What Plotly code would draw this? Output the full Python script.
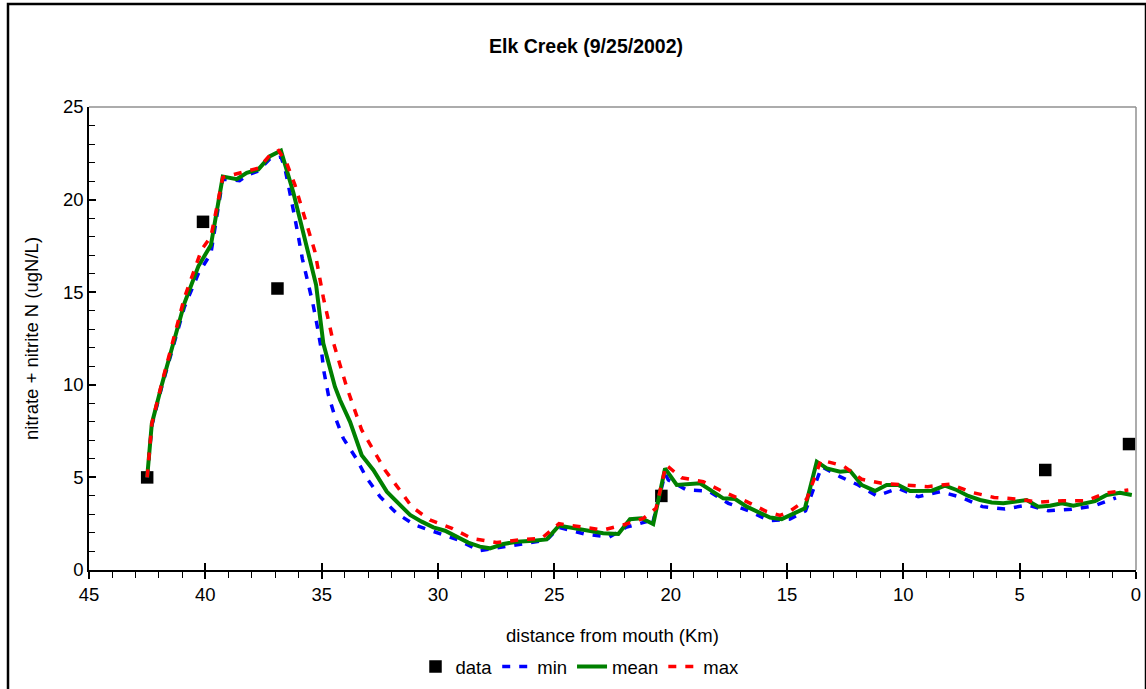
import plotly.graph_objects as go

# ---- data ----
data_x = [42.5, 40.1, 36.9, 20.4, 3.9, 0.3]
data_y = [5.0, 18.8, 15.2, 4.0, 5.4, 6.8]

mean_x = [42.5, 42.3, 41.87, 41.37, 40.9, 40.3, 39.76, 39.25, 38.65, 38.22, 37.72, 37.22, 36.75, 36.22,
          35.75, 35.24, 34.93, 34.71, 34.43, 34.21, 33.78, 33.28, 32.78, 32.2, 31.78, 31.2, 30.7, 30.2,
          29.7, 29.2, 28.7, 28.2, 27.77, 27.19, 26.62, 25.9, 25.33, 24.8, 23.75, 22.9, 22.25, 21.75,
          21.25, 20.75, 20.24, 19.74, 18.74, 17.74, 17.23, 16.73, 15.73, 15.23, 14.23, 13.72, 13.29,
          12.72, 12.29, 11.79, 11.22, 10.72, 10.22, 9.71, 8.78, 8.21, 7.71, 7.21, 6.7, 6.2, 5.7, 5.2,
          4.7, 4.2, 3.7, 3.19, 2.69, 1.76, 1.26, 0.69, 0.18]
mean_y = [5.0, 7.9, 10.0, 12.24, 14.4, 16.4, 17.55, 21.24, 21.1, 21.45, 21.63, 22.35, 22.64, 20.4,
          18.0, 15.4, 12.24, 11.16, 9.9, 9.18, 8.0, 6.2, 5.4, 4.23, 3.69, 2.97, 2.61, 2.3,
          2.12, 1.8, 1.48, 1.26, 1.17, 1.4, 1.53, 1.58, 1.65, 2.4, 2.16, 1.98, 1.94, 2.74,
          2.79, 2.48, 5.49, 4.59, 4.68, 3.87, 3.83, 3.42, 2.83, 2.75, 3.33, 5.85, 5.49,
          5.31, 5.36, 4.59, 4.27, 4.59, 4.59, 4.27, 4.28, 4.55, 4.32, 4.0, 3.78, 3.65, 3.6, 3.69,
          3.78, 3.42, 3.47, 3.6, 3.47, 3.72, 4.05, 4.17, 4.05]

max_x = [42.5, 42.3, 41.87, 41.37, 40.9, 40.16, 39.76, 39.25, 38.72, 38.22, 37.72, 37.22, 36.85, 36.5,
         36.15, 35.86, 35.57, 35.29, 34.93, 34.5, 34.21, 33.93, 33.28, 32.28, 31.7, 31.13, 30.35, 29.4,
         28.55, 27.48, 26.55, 25.55, 24.8, 23.9, 22.9, 22.04, 21.18, 20.63, 20.2, 19.53, 18.6, 17.67,
         16.73, 15.87, 15.3, 14.9, 14.15, 13.54, 12.58, 11.79, 10.93, 9.93, 8.95, 7.99, 7.06, 6.1, 5.1,
         4.16, 3.15, 2.15, 1.26, 0.33]
max_y = [5.0, 7.9, 10.1, 12.4, 14.7, 17.3, 18.0, 21.2, 21.36, 21.5, 21.7, 22.4, 22.65, 21.96,
         20.8, 19.58, 18.36, 17.19, 14.72, 12.3, 11.07, 9.9, 7.56, 5.4, 4.41, 3.42, 2.7, 2.25,
         1.71, 1.48, 1.62, 1.71, 2.5, 2.34, 2.16, 2.43, 2.79, 3.33, 5.67, 4.98, 4.77, 4.18,
         3.69, 3.15, 2.95, 3.15, 3.83, 5.94, 5.62, 4.9, 4.68, 4.59, 4.5, 4.64, 4.19, 3.92, 3.83,
         3.66, 3.74, 3.74, 4.17, 4.32]

min_x = [42.5, 42.3, 41.87, 41.37, 40.9, 40.3, 39.76, 39.25, 38.53, 38.22, 37.72, 37.22, 36.75, 36.58,
         36.39, 36.19, 36.0, 35.83, 35.6, 35.38, 35.18, 35.02, 34.9, 34.71, 34.43, 34.07, 33.52, 33.07,
         32.49, 31.78, 30.99, 30.05, 29.13, 28.22, 27.33, 26.33, 25.33, 24.8, 23.68, 22.64, 21.93,
         21.03, 20.8, 20.24, 20.1, 19.31, 18.38, 17.52, 16.66, 15.76, 14.87, 14.2, 13.51, 12.72, 11.94,
         11.14, 10.22, 9.36, 8.42, 7.49, 6.6, 5.63, 4.67, 3.77, 2.76, 1.8, 0.86]
min_y = [5.0, 7.8, 9.9, 12.1, 14.2, 16.0, 17.1, 21.1, 21.02, 21.3, 21.55, 22.2, 22.3, 21.7,
         20.4, 19.26, 18.0, 16.8, 15.57, 14.4, 13.1, 11.93, 10.7, 9.45, 8.28, 7.11, 6.03, 4.98,
         3.96, 3.06, 2.43, 2.03, 1.62, 1.04, 1.23, 1.4, 1.62, 2.3, 1.94, 1.77, 2.3,
         2.61, 2.4, 5.2, 4.86, 4.32, 4.27, 3.6, 3.2, 2.66, 2.75, 3.2, 5.58, 5.04, 4.59,
         4.0, 4.41, 3.96, 4.23, 3.92, 3.42, 3.29, 3.51, 3.2, 3.28, 3.46, 3.9]

x_ticks = [45, 40, 35, 30, 25, 20, 15, 10, 5, 0]
y_ticks = [0, 5, 10, 15, 20, 25]

title_text = "Elk Creek (9/25/2002)"
x_title = "distance from mouth (Km)"
y_title = "nitrate + nitrite N (ugN/L)"

FONT = "Arial, Liberation Sans, sans-serif"

fig = go.Figure()
fig.add_trace(go.Scatter(x=data_x, y=data_y, mode="markers", name="data",
                         marker=dict(symbol="square", size=12.5, color="black")))
fig.add_trace(go.Scatter(x=min_x, y=min_y, mode="lines", name="min",
                         line=dict(color="#0000FF", width=3.5, dash="8px,9px")))
fig.add_trace(go.Scatter(x=mean_x, y=mean_y, mode="lines", name="mean",
                         line=dict(color="#008000", width=4)))
fig.add_trace(go.Scatter(x=max_x, y=max_y, mode="lines", name="max",
                         line=dict(color="#FF0000", width=3.5, dash="8px,9px")))
# overlay axis only for inside halves of the crossing major ticks
fig.add_trace(go.Scatter(x=[None], y=[None], xaxis="x2", showlegend=False, hoverinfo="skip"))

fig.update_layout(
    width=1146, height=689,
    margin=dict(l=89, r=10, t=107, b=119, autoexpand=False),
    paper_bgcolor="white", plot_bgcolor="white",
    font=dict(family=FONT, size=18.5, color="black"),
    title=dict(text="<b>" + title_text + "</b>", x=586 / 1146, xanchor="center", y=1 - 46 / 689,
               yanchor="middle", font=dict(family=FONT, size=19.5, color="black")),
    showlegend=True,
    legend=dict(orientation="h", x=(580 - 89) / 1047, xanchor="center", y=(570 - 667) / 463,
                yanchor="middle", font=dict(family=FONT, size=18.5), itemwidth=30,
                bgcolor="rgba(0,0,0,0)"),
    xaxis=dict(range=[45, 0], tickvals=x_ticks, automargin=False,
               ticks="outside", ticklen=7, tickwidth=1.5, tickcolor="black",
               showline=True, linecolor="black", linewidth=1.5, showgrid=False, zeroline=False,
               minor=dict(dtick=1, ticks="outside", ticklen=6, tickwidth=1.2, tickcolor="black"),
               tickfont=dict(family=FONT, size=18.5),
               title=dict(text=x_title, font=dict(family=FONT, size=18.5), standoff=25)),
    xaxis2=dict(overlaying="x", matches="x", range=[45, 0], side="bottom", automargin=False,
                tickvals=x_ticks, showticklabels=False,
                ticks="inside", ticklen=7, tickwidth=1.5, tickcolor="black",
                showline=False, showgrid=False, zeroline=False),
    yaxis=dict(range=[0, 25], tickvals=y_ticks, automargin=False,
               ticks="inside", ticklen=7, tickwidth=1.5, tickcolor="black",
               showline=True, linecolor="black", linewidth=1.5, showgrid=False, zeroline=False,
               minor=dict(dtick=1, ticks="inside", ticklen=6, tickwidth=1.2, tickcolor="black"),
               tickfont=dict(family=FONT, size=18.5),
               title=dict(text=y_title, font=dict(family=FONT, size=18.5), standoff=19)),
    shapes=[
        dict(type="line", xref="paper", yref="paper", x0=0, x1=1, y0=1, y1=1,
             line=dict(color="#909090", width=1.5)),
        dict(type="line", xref="paper", yref="paper", x0=1, x1=1, y0=0, y1=1,
             line=dict(color="#909090", width=1.5)),
        dict(type="rect", xref="paper", yref="paper",
             x0=(8 - 89) / 1047, x1=(1146 - 89) / 1047,
             y0=(570 - 700) / 463, y1=(570 - 4) / 463,
             line=dict(color="black", width=2.5), fillcolor="rgba(0,0,0,0)", layer="above"),
    ],
)

fig.write_html("out.html")
